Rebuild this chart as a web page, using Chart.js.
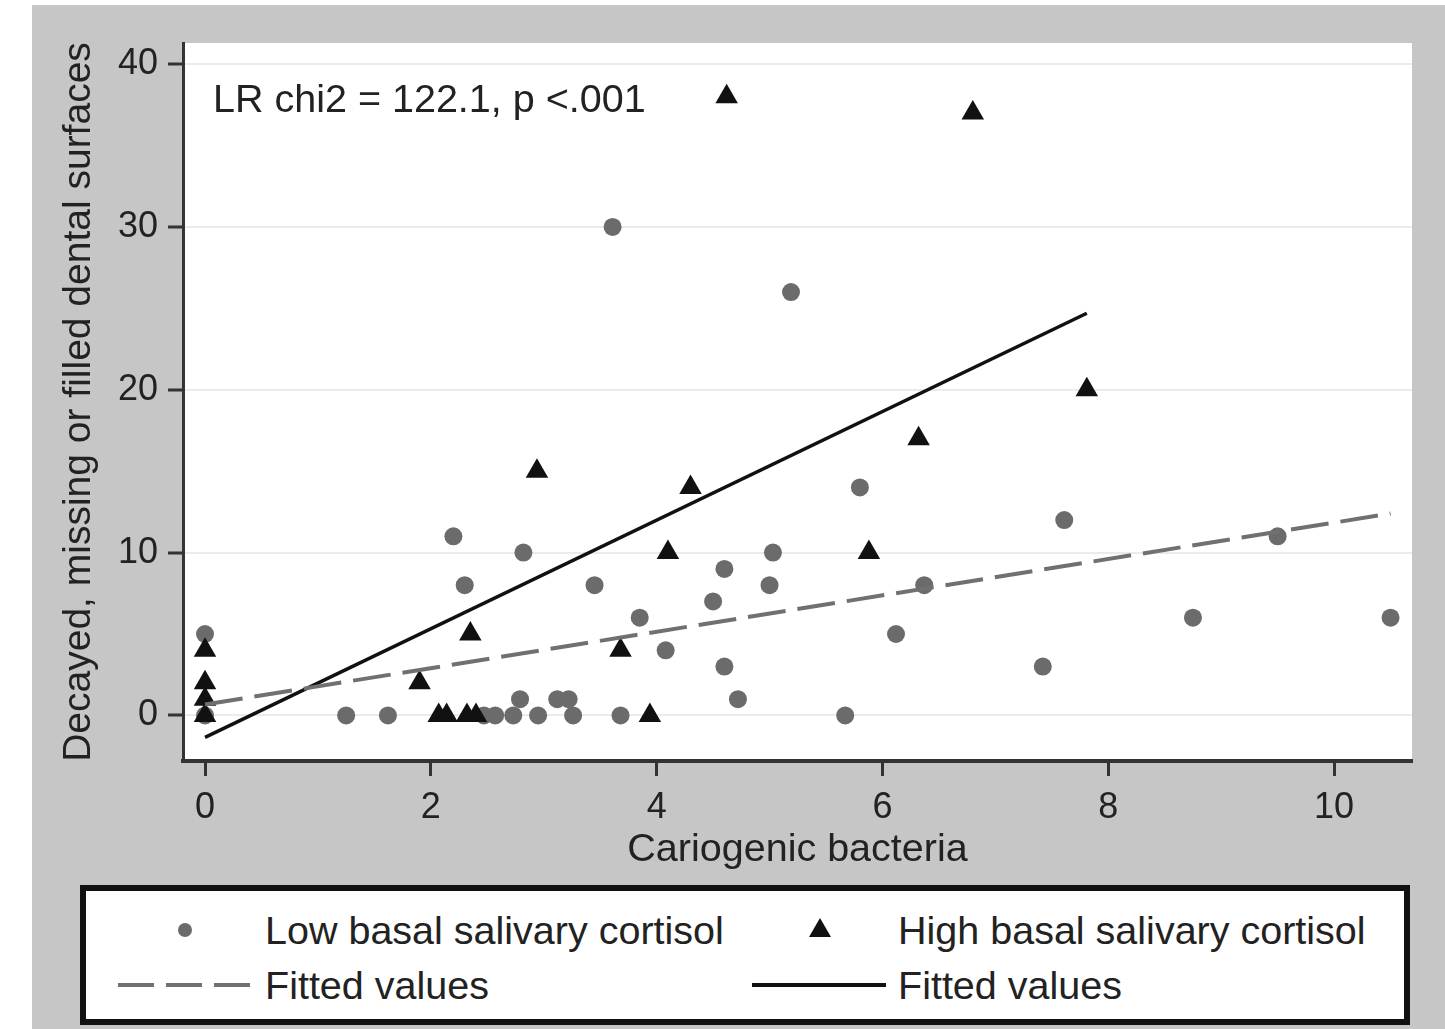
<!DOCTYPE html>
<html>
<head>
<meta charset="utf-8">
<script src="https://cdn.jsdelivr.net/npm/chart.js@4.4.1/dist/chart.umd.min.js"></script>
<style>
  html, body { margin: 0; padding: 0; background: #fff; }
  body { width: 1445px; height: 1029px; position: relative; overflow: hidden;
         font-family: "Liberation Sans", Arial, sans-serif; color: #222; }
  #panel { position: absolute; left: 32px; top: 5px; width: 1413px; height: 1024px; background: #c6c6c6; }
  #plot { position: absolute; left: 0; top: 0; }
  #legend { position: absolute; left: 48px; top: 880px; width: 1330px; height: 140px;
            box-sizing: border-box; border: 6px solid #111; background: #fff; }
  #legend span { position: absolute; font-size: 39.5px; line-height: 44px; white-space: nowrap; }
  #legend svg { position: absolute; }
</style>
</head>
<body>
<div id="panel">
  <canvas id="plot" width="1413" height="880"></canvas>
  <div id="legend"></div>
</div>
<script>
// axis ticks
const xTicks = [0, 2, 4, 6, 8, 10];
const yTicks = [0, 10, 20, 30, 40];

// low basal salivary cortisol (circles)
const lowX = [0, 0, 1.25, 1.62, 2.2, 2.3, 2.47, 2.57, 2.73, 2.79, 2.82, 2.95, 3.12, 3.22, 3.26, 3.45, 3.61, 3.68,
              3.85, 4.08, 4.5, 4.6, 4.6, 4.72, 5.0, 5.03, 5.19, 5.67, 5.8, 6.12, 6.37, 7.42, 7.61, 8.75, 9.5, 10.5];
const lowY = [5, 0, 0, 0, 11, 8, 0, 0, 0, 1, 10, 0, 1, 1, 0, 8, 30, 0,
              6, 4, 7, 9, 3, 1, 8, 10, 26, 0, 14, 5, 8, 3, 12, 6, 11, 6];

// high basal salivary cortisol (triangles)
const highX = [0, 0, 0, 0, 1.9, 2.07, 2.14, 2.32, 2.4, 2.35, 2.94, 3.68, 3.94, 4.1, 4.3, 4.62, 5.88, 6.32, 6.8, 7.81];
const highY = [4, 2, 1, 0, 2, 0, 0, 0, 0, 5, 15, 4, 0, 10, 14, 38, 10, 17, 37, 20];

// fitted lines (end points)
const fitLowX = [0, 10.5];
const fitLowY = [0.67, 12.4];
const fitHighX = [0, 7.81];
const fitHighY = [-1.35, 24.7];

const seriesNames = ["Low basal salivary cortisol", "High basal salivary cortisol", "Fitted values", "Fitted values"];
const note = "LR chi2 = 122.1, p <.001";

const toPts = (xs, ys) => xs.map((x, i) => ({x: x, y: ys[i]}));

const FONT = '"Liberation Sans", Arial, sans-serif';
const INK = '#222';

// white plot region + annotation text
const plotBg = {
  id: 'plotBg',
  beforeDraw(chart) {
    const {ctx, chartArea: a} = chart;
    ctx.save();
    ctx.fillStyle = '#fff';
    ctx.fillRect(a.left, a.top, a.right - a.left, a.bottom - a.top);
    ctx.restore();
  },
  afterDraw(chart) {
    const {ctx, chartArea: a} = chart;
    ctx.save();
    ctx.font = '39.5px ' + FONT;
    ctx.fillStyle = INK;
    ctx.textBaseline = 'middle';
    ctx.fillText(note, a.left + 30, a.top + 58);
    ctx.restore();
  }
};

const chart = new Chart('plot', {
  type: 'scatter',
  data: {
    datasets: [
      {
        label: seriesNames[2], type: 'line', data: toPts(fitLowX, fitLowY),
        borderColor: '#707070', borderWidth: 4, borderDash: [38, 12],
        pointRadius: 0, fill: false, order: 0
      },
      {
        label: seriesNames[3], type: 'line', data: toPts(fitHighX, fitHighY),
        borderColor: '#111', borderWidth: 3.5,
        pointRadius: 0, fill: false, order: 1
      },
      {
        label: seriesNames[1], data: toPts(highX, highY),
        pointStyle: 'triangle', pointRadius: 13, pointHoverRadius: 13,
        backgroundColor: '#111', borderColor: '#111', borderWidth: 0, order: 2
      },
      {
        label: seriesNames[0], data: toPts(lowX, lowY),
        pointStyle: 'circle', pointRadius: 9, pointHoverRadius: 9,
        backgroundColor: '#6b6b6b', borderColor: '#6b6b6b', borderWidth: 0, order: 3
      }
    ]
  },
  options: {
    responsive: false,
    animation: false,
    events: [],
    layout: { padding: { top: 38, right: 33, left: 0, bottom: 0 } },
    plugins: {
      legend: { display: false },
      tooltip: { enabled: false }
    },
    scales: {
      x: {
        type: 'linear', min: -0.195, max: 10.69,
        afterBuildTicks: s => { s.ticks = xTicks.map(v => ({value: v})); },
        afterFit: s => { s.height = 124; },
        border: { color: '#333', width: 4 },
        grid: { drawOnChartArea: false, drawTicks: true, tickLength: 15, tickColor: '#333', tickWidth: 3 },
        ticks: { color: INK, font: { family: FONT, size: 36 }, padding: 10, maxRotation: 0 },
        title: { display: true, text: 'Cariogenic bacteria', color: INK,
                 font: { family: FONT, size: 39.5 }, padding: { top: 0, bottom: 11 } }
      },
      y: {
        type: 'linear', min: -2.8, max: 41.3,
        afterBuildTicks: s => { s.ticks = yTicks.map(v => ({value: v})); },
        afterFit: s => { s.width = 151; },
        border: { color: '#333', width: 3 },
        grid: { color: '#ebebeb', lineWidth: 2, drawTicks: true, tickLength: 15, tickColor: '#333', tickWidth: 3 },
        ticks: { color: INK, font: { family: FONT, size: 36 }, padding: 10 },
        title: { display: true, text: 'Decayed, missing or filled dental surfaces', color: INK,
                 font: { family: FONT, size: 39 }, padding: { top: 24, bottom: 0 } }
      }
    }
  },
  plugins: [plotBg]
});

// legend box, 2 x 2, built from the dataset labels
const legend = document.getElementById('legend');
const ox = 80 + 6, oy = 885 + 6;   // page offset of legend content box
function addText(txt, px, cy) {
  const s = document.createElement('span');
  s.textContent = txt;
  s.style.left = (px - ox) + 'px';
  s.style.top = (cy - 22 - oy) + 'px';
  legend.appendChild(s);
}
function addSvg(x, y, w, h, inner) {
  const ns = 'http://www.w3.org/2000/svg';
  const svg = document.createElementNS(ns, 'svg');
  svg.setAttribute('width', w); svg.setAttribute('height', h);
  svg.style.left = (x - ox) + 'px';
  svg.style.top = (y - oy) + 'px';
  svg.innerHTML = inner;
  legend.appendChild(svg);
}
const ds = chart.data.datasets;
addSvg(178, 923, 14, 14, '<circle cx="7" cy="7" r="7" fill="#6b6b6b"/>');
addText(ds[3].label, 265, 930);
addSvg(809, 918, 22, 20, '<polygon points="11,0 22,19 0,19" fill="#111"/>');
addText(ds[2].label, 898, 930);
addSvg(118, 981, 134, 8, '<line x1="0" y1="4" x2="134" y2="4" stroke="#707070" stroke-width="4" stroke-dasharray="36 12"/>');
addText(ds[0].label, 265, 985);
addSvg(752, 981, 134, 8, '<line x1="0" y1="4" x2="134" y2="4" stroke="#111" stroke-width="4"/>');
addText(ds[1].label, 898, 985);
</script>
</body>
</html>
